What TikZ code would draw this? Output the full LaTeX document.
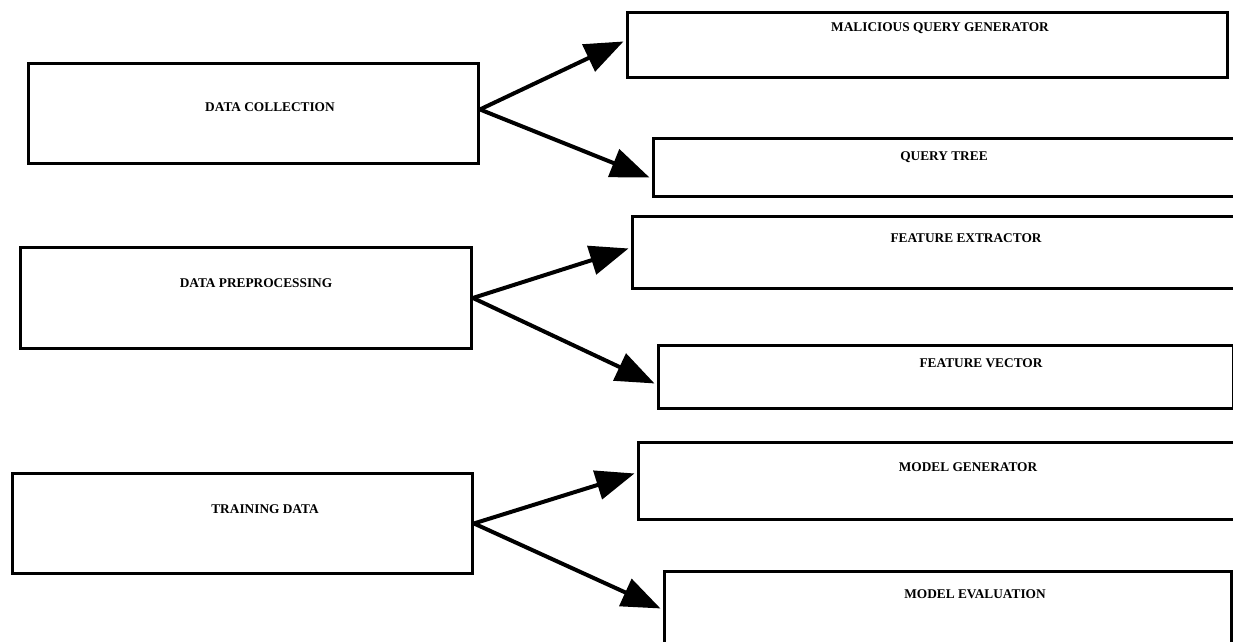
\documentclass[tikz,border=0pt]{standalone}
\usepackage{fontspec}
\setmainfont{Liberation Serif}
\usetikzlibrary{arrows.meta,calc}
\begin{document}
\begin{tikzpicture}[x=0.75pt,y=-0.75pt,
  box/.style={draw, line width=2.2pt, inner sep=0pt, anchor=north west},
  lbl/.style={font=\fontsize{10}{12}\selectfont\bfseries, inner sep=0pt},
  arr/.style={line width=3pt, -{Triangle[length=29pt,width=22pt]}}]
\clip (0,0) rectangle (1233,642);
% left boxes
\node[box, minimum width=0.75*450pt, minimum height=0.75*100pt] (dc) at (27,62) {};
\node[box, minimum width=0.75*451pt, minimum height=0.75*101pt] (dp) at (19,246) {};
\node[box, minimum width=0.75*460pt, minimum height=0.75*100pt] (td) at (11,472) {};
% right boxes
\node[box, minimum width=0.75*600pt, minimum height=0.75*65pt] (mqg) at (626,11) {};
\node[box, minimum width=0.75*598pt, minimum height=0.75*58pt] (qt) at (652,137) {};
\node[box, minimum width=0.75*619pt, minimum height=0.75*72pt] (fe) at (631,215) {};
\node[box, minimum width=0.75*575pt, minimum height=0.75*63pt] (fv) at (657,344) {};
\node[box, minimum width=0.75*613pt, minimum height=0.75*77pt] (mg) at (637,441) {};
\node[box, minimum width=0.75*567pt, minimum height=0.75*90pt] (me) at (663,570) {};
% labels
\node[lbl] (tdc) at (270,107) {DATA COLLECTION};
\node[lbl] (tdp) at (256,283) {DATA PREPROCESSING};
\node[lbl] (ttd) at (265,509) {TRAINING DATA};
\node[lbl] (tmqg) at (940,28) {MALICIOUS QUERY GENERATOR};
\node[lbl] (tqt) at (944,157) {QUERY TREE};
\node[lbl] (tfe) at (966,238) {FEATURE EXTRACTOR};
\node[lbl] (tfv) at (981,363) {FEATURE VECTOR};
\node[lbl] (tmg) at (968,467) {MODEL GENERATOR};
\node[lbl] (tme) at (975,594) {MODEL EVALUATION};
% arrows
\draw[arr] ($(dc.east)+(0,-4)$) -- ($(mqg.west)+(-2.5,-3.5)$);
\draw[arr] ($(dc.east)+(0,-4)$) -- ($(qt.west)+(-2.5,10)$);
\draw[arr] (dp.east) -- ($(fe.west)+(-2.5,-4)$);
\draw[arr] (dp.east) -- ($(fv.west)+(-2.5,6.5)$);
\draw[arr] (td.east) -- ($(mg.west)+(-2.5,-7.5)$);
\draw[arr] (td.east) -- ($(me.west)+(-2.5,-8)$);
\end{tikzpicture}
\end{document}
